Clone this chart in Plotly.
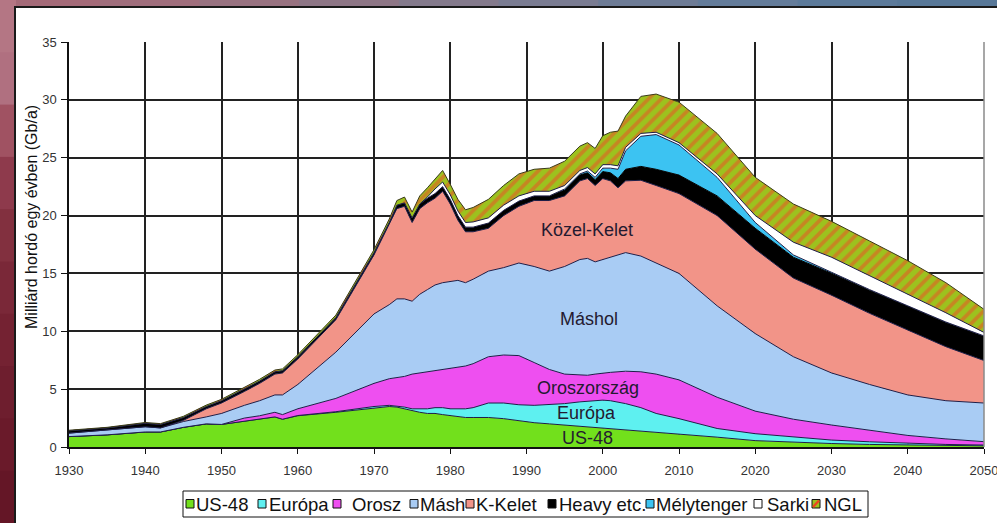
import plotly.graph_objects as go

# ---------------- data (Gb/a) ----------------
years = [1930, 1935, 1940, 1942, 1945, 1948, 1950, 1953, 1955, 1957,
         1958, 1960, 1965, 1970, 1972, 1973, 1974, 1975, 1976, 1977,
         1978, 1979, 1980, 1981, 1982, 1983, 1985, 1987, 1989, 1991,
         1993, 1995, 1997, 1998, 1999, 2000, 2001, 2002, 2003, 2005,
         2007, 2010, 2015, 2020, 2025, 2030, 2035, 2040, 2045, 2050]

us48 = [0.9, 1.05, 1.3, 1.3, 1.7, 2.0, 1.95, 2.25, 2.4, 2.6,
        2.4, 2.7, 3.0, 3.4, 3.5, 3.45, 3.3, 3.1, 3.0, 2.9,
        2.9, 2.8, 2.7, 2.6, 2.55, 2.55, 2.55, 2.45, 2.25, 2.1,
        2.0, 1.9, 1.8, 1.75, 1.7, 1.6, 1.55, 1.5, 1.45, 1.35,
        1.25, 1.15, 0.85, 0.55, 0.4, 0.3, 0.22, 0.17, 0.12, 0.1]

europa = [0, 0, 0, 0, 0, 0, 0, 0, 0, 0,
          0, 0.02, 0.05, 0.1, 0.1, 0.1, 0.15, 0.2, 0.3, 0.4,
          0.5, 0.6, 0.6, 0.7, 0.75, 0.85, 1.25, 1.35, 1.4, 1.5,
          1.65, 1.85, 2.1, 2.2, 2.3, 2.45, 2.45, 2.4, 2.3, 2.05,
          1.65, 1.3, 0.75, 0.6, 0.45, 0.3, 0.23, 0.15, 0.1, 0.07]

orosz = [0, 0, 0, 0, 0, 0, 0, 0.25, 0.3, 0.4,
         0.4, 0.58, 1.15, 2.0, 2.3, 2.45, 2.65, 3.0, 3.1, 3.2,
         3.2, 3.3, 3.5, 3.6, 3.7, 3.8, 4.0, 4.15, 4.25, 3.7,
         3.05, 2.55, 2.3, 2.25, 2.3, 2.35, 2.45, 2.6, 2.8, 3.1,
         3.4, 3.35, 2.7, 1.95, 1.55, 1.3, 1.0, 0.68, 0.48, 0.29]

mashol = [0.3, 0.4, 0.45, 0.35, 0.5, 0.6, 0.95, 1.1, 1.3, 1.5,
          1.7, 2.1, 4.0, 6.0, 6.4, 6.8, 6.7, 6.3, 6.8, 7.1,
          7.4, 7.5, 7.5, 7.5, 7.2, 7.3, 7.4, 7.55, 8.0, 8.3,
          8.5, 9.3, 10.0, 10.1, 9.7, 9.8, 9.95, 10.1, 10.25, 10.0,
          9.6, 9.2, 7.9, 6.7, 5.4, 4.5, 3.95, 3.5, 3.3, 3.34]

kozel_kelet = [0, 0, 0, 0, 0.1, 0.7, 0.9, 1.2, 1.5, 1.8,
               1.9, 2.2, 2.8, 5.1, 6.9, 7.8, 8.0, 6.8, 7.4, 7.5,
               7.5, 7.9, 6.7, 5.2, 4.4, 4.1, 3.7, 4.5, 4.9, 5.7,
               6.1, 6.1, 6.8, 6.9, 6.6, 7.0, 6.6, 5.8, 6.2, 6.55,
               6.7, 6.9, 7.8, 7.3, 6.8, 6.72, 6.15, 5.61, 4.67, 3.67]

heavy = [0.2, 0.2, 0.3, 0.3, 0.25, 0.2, 0.2, 0.2, 0.2, 0.2,
         0.2, 0.2, 0.2, 0.2, 0.2, 0.3, 0.3, 0.4, 0.4, 0.4,
         0.4, 0.4, 0.4, 0.4, 0.4, 0.4, 0.45, 0.45, 0.45, 0.4,
         0.4, 0.5, 0.5, 0.5, 0.5, 0.6, 0.7, 0.8, 1.0, 1.2,
         1.4, 1.6, 1.7, 1.8, 1.8, 1.9, 2.0, 2.05, 2.1, 2.1]

melytenger = [0, 0, 0, 0, 0, 0, 0, 0, 0, 0,
              0, 0, 0, 0, 0, 0, 0, 0, 0, 0,
              0, 0, 0, 0, 0, 0, 0, 0, 0, 0,
              0, 0.1, 0.1, 0.15, 0.2, 0.3, 0.4, 0.8, 1.6, 2.6,
              3.0, 2.6, 1.6, 0.5, 0.2, 0.08, 0.05, 0.04, 0.03, 0.03]

sarki = [0, 0, 0, 0, 0, 0, 0, 0, 0, 0,
         0, 0, 0, 0, 0, 0, 0, 0, 0, 0.1,
         0.4, 0.4, 0.4, 0.4, 0.4, 0.45, 0.45, 0.45, 0.45, 0.4,
         0.4, 0.3, 0.3, 0.3, 0.3, 0.3, 0.3, 0.3, 0.3, 0.25,
         0.2, 0.2, 0.3, 0.6, 1.1, 1.3, 1.2, 1.0, 0.8, 0.3]

ngl = [0.05, 0.05, 0.07, 0.07, 0.1, 0.12, 0.12, 0.12, 0.15, 0.15,
       0.15, 0.17, 0.2, 0.25, 0.3, 0.4, 0.5, 0.5, 0.7, 0.8,
       0.9, 1.0, 0.9, 1.0, 1.1, 1.25, 1.6, 1.7, 1.9, 1.9,
       2.0, 2.1, 2.1, 2.15, 2.2, 2.5, 2.8, 3.0, 2.7, 3.2,
       3.3, 3.5, 3.5, 3.3, 3.3, 3.1, 3.0, 2.9, 2.6, 2.0]

legend_labels = ["US-48", "Európa", "Orosz", "Másh", "K-Kelet",
                 "Heavy etc.", "Mélytenger", "Sarki", "NGL"]
area_labels = ["US-48", "Európa", "Oroszország", "Máshol", "Közel-Kelet"]
label_x = [1998.0, 1997.9, 1998.0, 1998.25, 1997.9]
label_y = [0.75, 2.96, 5.07, 11.04, 18.75]

x_ticks = list(range(1930, 2051, 10))
y_ticks = list(range(0, 36, 5))

# ---------------- styling ----------------
W, H = 997, 523
L, R, T, B = 69, 13, 42, 76
PW = W - L - R
PH = H - T - B


def px(x):
    return (x - L) / PW


def py(y):
    return (H - B - y) / PH


series = [us48, europa, orosz, mashol, kozel_kelet, heavy, melytenger, sarki, ngl]
fills = ["#72e01c", "#5ef0f0", "#ee4ff0", "#a9ccf4", "#f29488",
         "#000000", "#3cc3f2", "#ffffff", "#9cc21e"]
edge = "#1e1e48"

fig = go.Figure()
for name, vals, col in zip(legend_labels, series, fills):
    kw = dict(x=years, y=vals, name=name, mode="lines", stackgroup="one",
              line=dict(color=edge if name != "Heavy etc." else "#000000", width=1),
              fillcolor=col, showlegend=False, hoverinfo="x+y+name")
    if name == "NGL":
        kw["fillpattern"] = dict(shape="/", bgcolor="#9cc21e", fgcolor="#f04a26",
                                 size=9, solidity=0.42)
        kw["line"] = dict(color="#3a3a1a", width=1)
    fig.add_trace(go.Scatter(**kw))

shapes = []
# background strips (photo frame)
top_cols = ["#a46a78", "#a06e7c", "#987280", "#8e7686", "#847a8c",
            "#7a7c92", "#6e7c96", "#647c9a", "#5c7a9a", "#587898"]
for i, c in enumerate(top_cols):
    shapes.append(dict(type="rect", xref="paper", yref="paper", layer="below",
                       x0=px(i * W / 10), x1=px((i + 1) * W / 10 + 1),
                       y0=py(8), y1=py(0), fillcolor=c, line=dict(width=0)))
left_cols = ["#b47684", "#b07080", "#a05262", "#8e3a4c", "#82303f",
             "#7a2838", "#742232", "#6e1e2e", "#6a1a2a", "#641626"]
for i, c in enumerate(left_cols):
    shapes.append(dict(type="rect", xref="paper", yref="paper", layer="below",
                       x0=px(0), x1=px(16),
                       y0=py((i + 1) * H / 10 + 1), y1=py(i * H / 10),
                       fillcolor=c, line=dict(width=0)))
# white panel
shapes.append(dict(type="rect", xref="paper", yref="paper", layer="below",
                   x0=px(15), x1=px(1005), y0=py(530), y1=py(7),
                   fillcolor="#ffffff", line=dict(width=0)))
shapes.append(dict(type="line", xref="paper", yref="paper", layer="below",
                   x0=px(14), x1=px(1005), y0=py(7), y1=py(7),
                   line=dict(color="#1a1a1a", width=2)))
shapes.append(dict(type="line", xref="paper", yref="paper", layer="below",
                   x0=px(15), x1=px(15), y0=py(530), y1=py(7),
                   line=dict(color="#1a1a1a", width=2)))
# right plot border
shapes.append(dict(type="line", xref="paper", yref="paper", layer="above",
                   x0=1, x1=1, y0=0, y1=1, line=dict(color="#8a8a8a", width=1.5)))

# manual legend
shapes.append(dict(type="rect", xref="paper", yref="paper", layer="above",
                   x0=px(183), x1=px(868), y0=py(517), y1=py(491),
                   fillcolor="#ffffff", line=dict(color="#111111", width=1)))
sq_left = [186, 258, 333, 410, 466, 548, 646, 754, 812]
txt_left = [194, 267, 350, 418, 474, 557, 654, 765, 822]
annotations = []
for i, (name, col) in enumerate(zip(legend_labels, fills)):
    x0 = sq_left[i]
    shapes.append(dict(type="rect", xref="paper", yref="paper", layer="above",
                       x0=px(x0), x1=px(x0 + 8), y0=py(508), y1=py(499.5),
                       fillcolor=col, line=dict(color="#111111", width=1)))
    if name == "NGL":
        shapes.append(dict(type="line", xref="paper", yref="paper", layer="above",
                           x0=px(x0 + 1), x1=px(x0 + 7), y0=py(507), y1=py(500.5),
                           line=dict(color="#ee4422", width=2.5)))
    annotations.append(dict(xref="paper", yref="paper", x=px(txt_left[i]), y=py(504),
                            xanchor="left", yanchor="middle", showarrow=False,
                            text=name,
                            font=dict(family="Liberation Sans, Arial",
                                      size=18.5, color="#111111")))

for t, xv, yv in zip(area_labels, label_x, label_y):
    annotations.append(dict(x=xv, y=yv, xref="x", yref="y", text=t, showarrow=False,
                            xanchor="center", yanchor="middle",
                            font=dict(family="Liberation Sans, Arial", size=18, color="#241a30")))

annotations.append(dict(xref="paper", yref="paper", x=px(31), y=py(217),
                        text="Milliárd hordó egy évben (Gb/a)", textangle=-90,
                        showarrow=False, xanchor="center", yanchor="middle",
                        font=dict(family="Liberation Sans, Arial", size=16, color="#111111")))

fig.update_layout(
    width=W, height=H,
    margin=dict(l=L, r=R, t=T, b=B, autoexpand=False),
    paper_bgcolor="#7a2535",
    plot_bgcolor="#ffffff",
    showlegend=False,
    shapes=shapes,
    annotations=annotations,
    font=dict(family="Liberation Sans, Arial", color="#333333"),
    xaxis=dict(range=[1930, 2050], tickvals=x_ticks, showgrid=True,
               gridcolor="#222222", gridwidth=1.5, showline=True, linecolor="#111111",
               linewidth=1.5, ticks="outside", ticklen=5, tickcolor="#111111",
               tickfont=dict(size=13, color="#333333"), ticklabelstandoff=6,
               ticklabeloverflow="allow", automargin=False,
               zeroline=False, fixedrange=True),
    yaxis=dict(range=[0, 35], tickvals=y_ticks, showgrid=True,
               gridcolor="#222222", gridwidth=1.5, showline=True, linecolor="#111111",
               linewidth=1.5, ticks="outside", ticklen=6, tickcolor="#111111",
               tickfont=dict(size=13, color="#333333"), ticklabelstandoff=2,
               automargin=False, zeroline=False, fixedrange=True),
)

fig.write_html("out.html", config={"displayModeBar": False},
               post_script="document.body.style.margin='0';")
